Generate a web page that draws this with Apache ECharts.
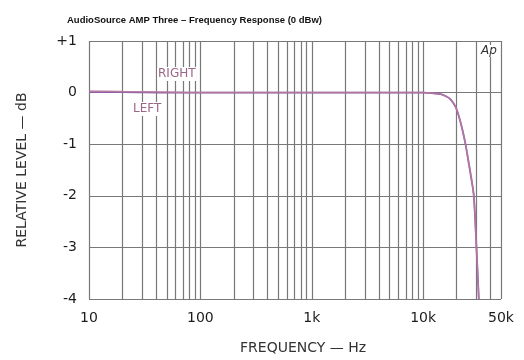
<!DOCTYPE html>
<html>
<head>
<meta charset="utf-8">
<script src="https://cdn.jsdelivr.net/npm/echarts@6/dist/echarts.min.js"></script>
<style>
  html, body { margin: 0; padding: 0; background: #fff; }
  #chart { width: 524px; height: 360px; }
</style>
</head>
<body>
<div id="chart"></div>
<script>
// Measurement points (Hz) and relative level (dB) per channel
const freqs      = [10, 20, 50, 100, 200, 500, 1000, 2000, 5000, 10000, 12000, 14400, 16000, 17600, 19500, 20800, 22400, 24000, 25500, 27000, 28500, 30100, 31600];
const rightLevel = [0.03, 0.02, 0.01, 0, 0, 0, 0, 0, 0, 0, -0.01, -0.03, -0.07, -0.13, -0.27, -0.44, -0.70, -1.00, -1.33, -1.65, -2.00, -3.00, -4.00];
const leftLevel  = [0.01, 0.01, 0, 0, 0, 0, 0, 0, 0, 0, -0.01, -0.03, -0.07, -0.13, -0.27, -0.44, -0.70, -1.00, -1.33, -1.65, -2.00, -3.00, -4.00];

// Log-frequency grid lines and labelled ticks
const gridFreqs = [10, 20, 30, 40, 50, 60, 70, 80, 90,
                   100, 200, 300, 400, 500, 600, 700, 800, 900,
                   1000, 2000, 3000, 4000, 5000, 6000, 7000, 8000, 9000,
                   10000, 20000, 30000, 40000, 50000];
const freqLabels = [10, 100, 1000, 10000, 50000];

const chart = echarts.init(document.getElementById('chart'), null, { renderer: 'canvas' });

const gridColor = '#787878';
const textColor = '#1c1c1c';

function fmtFreq(v) {
  if (v >= 1000) return (v / 1000) + 'k';
  return String(v);
}

chart.setOption({
  backgroundColor: '#ffffff',
  animation: false,
  title: {
    text: 'AudioSource AMP Three \u2013 Frequency Response (0 dBw)',
    left: 62,
    top: 10,
    textStyle: { fontFamily: 'Liberation Sans', fontSize: 9.5, fontWeight: 'bold', color: '#111' }
  },
  grid: { left: 89, right: 23, top: 41, bottom: 61, containLabel: false },
  xAxis: {
    type: 'log',
    logBase: 10,
    min: 10,
    max: 50000,
    axisLine: { show: false },
    axisTick: { show: false, customValues: gridFreqs },
    splitLine: { show: true, lineStyle: { color: gridColor, width: 1.2 } },
    axisLabel: {
      customValues: freqLabels,
      formatter: fmtFreq,
      margin: 12,
      fontFamily: 'DejaVu Sans',
      fontSize: 14,
      color: textColor
    }
  },
  yAxis: {
    type: 'value',
    min: -4,
    max: 1,
    interval: 1,
    name: 'RELATIVE LEVEL \u2014 dB',
    nameLocation: 'middle',
    nameRotate: 90,
    nameGap: 60,
    nameTextStyle: { fontFamily: 'DejaVu Sans', fontSize: 14, color: '#333' },
    axisLine: { show: false },
    axisTick: { show: false },
    splitLine: { show: true, lineStyle: { color: gridColor, width: 1.2 } },
    axisLabel: {
      margin: 12,
      fontFamily: 'DejaVu Sans',
      fontSize: 14,
      color: textColor,
      formatter: v => (v > 0 ? '+' + v : String(v))
    }
  },
  graphic: [
    {
      type: 'text', left: 240, top: 341,
      style: { text: 'FREQUENCY \u2014 Hz', fontFamily: 'DejaVu Sans', fontSize: 14, fill: '#333' }
    },
    {
      type: 'text', left: 157, top: 67, z: 10,
      style: { text: 'RIGHT', fontFamily: 'DejaVu Sans', fontSize: 12, fill: '#9a6688',
               backgroundColor: '#fff', padding: [1, 1] }
    },
    {
      type: 'text', left: 132, top: 102, z: 10,
      style: { text: 'LEFT', fontFamily: 'DejaVu Sans', fontSize: 12, fill: '#9a6688',
               backgroundColor: '#fff', padding: [1, 1] }
    },
    {
      type: 'text', left: 480, top: 45, z: 10,
      style: { text: 'Ap', fontFamily: 'DejaVu Sans', fontSize: 12, fontStyle: 'italic', fill: '#333',
               backgroundColor: '#fff', padding: [0, 1] }
    }
  ],
  series: [
    {
      name: 'LEFT',
      type: 'line',
      data: freqs.map((f, i) => [f, leftLevel[i]]),
      smooth: 0.3,
      showSymbol: false,
      lineStyle: { color: '#8c5fa8', width: 1.8 },
      z: 3
    },
    {
      name: 'RIGHT',
      type: 'line',
      data: freqs.map((f, i) => [f, rightLevel[i]]),
      smooth: 0.3,
      showSymbol: false,
      lineStyle: { color: '#b87a9f', width: 1.5, opacity: 0.85 },
      z: 4
    }
  ]
});
</script>
</body>
</html>
